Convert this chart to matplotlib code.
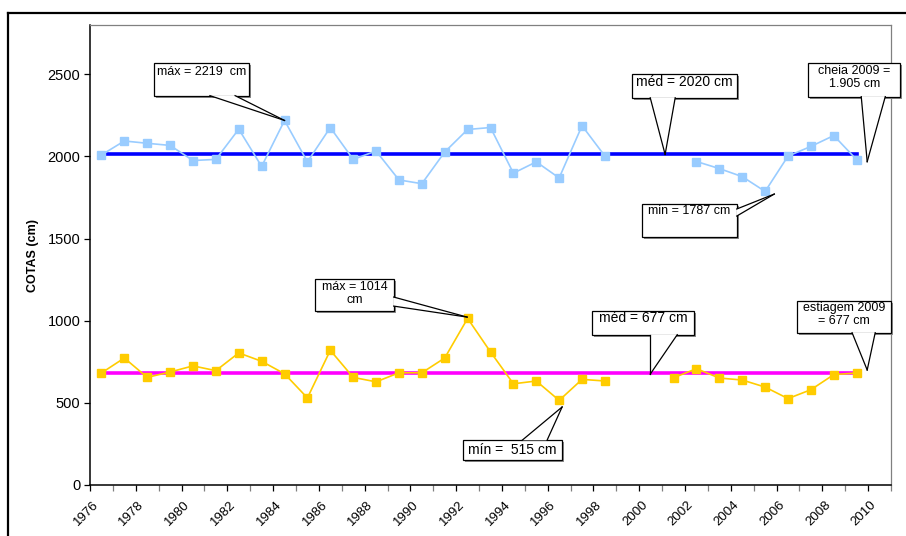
import numpy as np
import matplotlib
matplotlib.use('Agg')
import matplotlib.pyplot as plt
import matplotlib.transforms as mtransforms
from matplotlib.patches import Rectangle, Polygon
from matplotlib.lines import Line2D
from matplotlib.patheffects import SimplePatchShadow, Normal
from matplotlib.ticker import MultipleLocator, FixedLocator

plt.rcParams['font.family'] = ['Liberation Sans', 'DejaVu Sans']

# dados (cotas em cm), anos 1976-2009
anos = np.arange(1976, 2010)
cheia = [2009, 2094, 2080, 2067, 1975, 1982, 2166, 1939, 2219, 1967,
         2176, 1982, 2033, 1857, 1834, 2027, 2164, 2176, 1898, 1967,
         1869, 2187, 2002, np.nan, np.nan, np.nan, 1969, 1926, 1877, 1787,
         2002, 2061, 2127, 1980]
estiagem = [682, 773, 655, 688, 725, 696, 804, 753, 677, 530,
            820, 655, 628, 683, 683, 773, 1014, 810, 616, 633,
            515, 643, 633, np.nan, np.nan, 653, 708, 651, 639, 596,
            526, 580, 672, 682]
cheia_med = 2012
estiagem_med = 680

ytick_vals = [0, 500, 1000, 1500, 2000, 2500]
xtick_anos = list(range(1976, 2011, 2))

cheia = np.array(cheia, dtype=float)
estiagem = np.array(estiagem, dtype=float)
x = anos + 0.5   # pontos no meio de cada ano

fig = plt.figure(figsize=(9.06, 5.36), dpi=100)
ax = fig.add_axes([90 / 906, 51 / 536, 801 / 906, 460 / 536])

# linhas das medias
ax.plot([x[0], x[-1]], [cheia_med, cheia_med], color='#0000ff', lw=2.6, zorder=3)
ax.plot([x[0], x[-1]], [estiagem_med, estiagem_med], color='#ff00ff', lw=2.6, zorder=3)

# series
ax.plot(x, cheia, color='#99ccff', lw=1.2, marker='s', ms=5.5, mec='#99ccff', zorder=4)
ax.plot(x, estiagem, color='#ffcc00', lw=1.2, marker='s', ms=5.5, mec='#ffcc00', zorder=4)

ax.set_xlim(1976, 2011)
ax.set_ylim(0, 2800)
ax.yaxis.set_major_locator(FixedLocator(ytick_vals))
ax.xaxis.set_major_locator(FixedLocator(xtick_anos))
ax.xaxis.set_minor_locator(MultipleLocator(1))
ax.set_xticklabels([str(a) for a in xtick_anos], rotation=45, ha='center', fontsize=9.5)
ax.tick_params(axis='y', labelsize=10.5, length=4, width=0.9, pad=3)
ax.tick_params(axis='x', which='major', length=4, width=0.9, pad=6)
ax.tick_params(axis='x', which='minor', length=4, width=0.9, color='#808080')
ax.set_ylabel('COTAS (cm)', fontsize=9, fontweight='bold', labelpad=6)

# desloca os rotulos do eixo x um pouco para a esquerda
shift = mtransforms.ScaledTranslation(-4 / 100, 0, fig.dpi_scale_trans)
for lbl in ax.get_xticklabels():
    lbl.set_transform(lbl.get_transform() + shift)

for s in ['top', 'right']:
    ax.spines[s].set_color('#808080')
    ax.spines[s].set_linewidth(0.9)
for s in ['left', 'bottom']:
    ax.spines[s].set_color('black')
    ax.spines[s].set_linewidth(1.1)


def callout(text, box, base, tip, txy, fs=9, ha='center', va='top'):
    x0, y0, x1, y1 = box
    rect = Rectangle((x0, y0), x1 - x0, y1 - y0, fc='white', ec='black', lw=0.9,
                     zorder=6, clip_on=False,
                     path_effects=[SimplePatchShadow(offset=(1.2, -1.2), shadow_rgbFace='0.55', alpha=1), Normal()])
    ax.add_patch(rect)
    wedge = Polygon([base[0], tip, base[1]], closed=True, fc='white', ec='none',
                    zorder=7, clip_on=False)
    ax.add_patch(wedge)
    for b in base:
        ax.add_line(Line2D([b[0], tip[0]], [b[1], tip[1]], color='black', lw=0.9,
                           zorder=8, clip_on=False))
    ax.text(txy[0], txy[1], text, fontsize=fs, ha=ha, va=va, zorder=9,
            linespacing=1.1, clip_on=False)


# cheia
callout('máx = 2219  cm', (1978.80, 2368, 1982.95, 2568),
        [(1981.24, 2370), (1982.34, 2370)], (1984.5, 2219), (1978.93, 2552), ha='left')
callout('méd = 2020 cm', (1999.69, 2355, 2004.28, 2502),
        [(2000.48, 2357), (2001.57, 2357)], (2001.13, cheia_med), (2001.99, 2455), fs=10, va='center')
callout('cheia 2009 =\n1.905 cm', (2007.38, 2362, 2011.40, 2568),
        [(2009.70, 2364), (2010.75, 2364)], (2009.96, 1968), (2009.39, 2558))
callout('min = 1787 cm', (2000.13, 1509, 2004.28, 1710),
        [(2004.26, 1680), (2004.26, 1637)], (2005.90, 1771), (2000.39, 1705), ha='left')

# estiagem
callout('máx = 1014\ncm', (1985.83, 1059, 1989.29, 1254),
        [(1989.27, 1144), (1989.27, 1089)], (1992.48, 1022), (1987.56, 1244))
callout('mín =  515 cm', (1992.30, 152, 1996.63, 274),
        [(1994.88, 272), (1995.97, 272)], (1996.63, 475), (1994.47, 213), fs=10, va='center')
callout('méd = 677 cm', (1997.94, 913, 2002.40, 1059),
        [(2000.48, 915), (2001.66, 915)], (2000.48, estiagem_med - 5), (2000.17, 1016), fs=10, va='center')
callout('estiagem 2009\n= 677 cm', (2006.90, 925, 2011.01, 1120),
        [(2009.30, 927), (2010.31, 927)], (2009.96, 700), (2008.95, 1116))

# moldura externa
fig.add_artist(Line2D([8 / 906, 1.0], [1 - 13 / 536, 1 - 13 / 536], color='black', lw=1.6,
                      transform=fig.transFigure))
fig.add_artist(Line2D([8 / 906, 8 / 906], [0, 1 - 13 / 536], color='black', lw=1.6,
                      transform=fig.transFigure))

fig.savefig('out.png', dpi=100)
